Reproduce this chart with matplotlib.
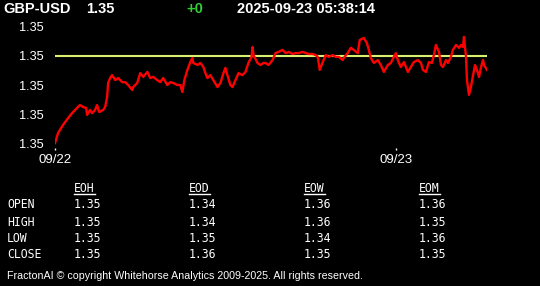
import matplotlib
matplotlib.use("Agg")
import matplotlib.pyplot as plt

# header
symbol = "GBP-USD"
last_price = "1.35"
change = "+0"
stamp = "2025-09-23 05:38:14"

# intraday series: hours since 09/22 00:00, price
hours = [
    0.00, 0.21, 0.35, 0.56, 0.92, 1.20, 1.55, 1.76, 1.98, 2.19,
    2.26, 2.47, 2.61, 2.82, 2.96, 3.11, 3.39, 3.53, 3.67, 3.74,
    3.88, 4.02, 4.24, 4.45, 4.73, 4.94, 5.15, 5.44, 5.51, 5.79,
    6.00, 6.21, 6.50, 6.71, 6.92, 7.20, 7.41, 7.62, 7.91, 8.12,
    8.33, 8.61, 8.82, 8.97, 9.11, 9.32, 9.53, 9.67, 9.74, 10.03,
    10.24, 10.45, 10.59, 10.73, 10.94, 11.15, 11.44, 11.65, 11.86, 12.00,
    12.14, 12.35, 12.50, 12.71, 12.92, 13.20, 13.41, 13.62, 13.84, 13.91,
    13.98, 14.26, 14.47, 14.68, 14.82, 15.04, 15.32, 15.53, 15.74, 16.02,
    16.24, 16.45, 16.73, 16.94, 17.15, 17.44, 17.65, 17.86, 18.14, 18.36,
    18.50, 18.64, 18.85, 19.06, 19.27, 19.56, 19.77, 19.98, 20.26, 20.33,
    20.61, 20.83, 21.04, 21.32, 21.46, 21.74, 21.96, 22.10, 22.24, 22.45,
    22.73, 22.94, 23.16, 23.44, 23.65, 23.86, 24.00, 24.14, 24.35, 24.57,
    24.85, 25.06, 25.27, 25.55, 25.77, 25.91, 26.12, 26.33, 26.54, 26.68,
    26.82, 27.04, 27.18, 27.32, 27.53, 27.67, 27.88, 28.02, 28.24, 28.45,
    28.59, 28.73, 28.80, 28.94, 29.01, 29.15, 29.29, 29.44, 29.58, 29.79,
    29.86, 30.00, 30.14, 30.21, 30.42,
]
prices = [
    1.34900, 1.34934, 1.34945, 1.34962, 1.34986, 1.35003, 1.35021, 1.35031, 1.35024, 1.35021,
    1.34997, 1.35014, 1.35003, 1.35014, 1.35031, 1.35007, 1.35014, 1.35024, 1.35059, 1.35107,
    1.35124, 1.35134, 1.35117, 1.35124, 1.35110, 1.35110, 1.35100, 1.35083, 1.35093, 1.35107,
    1.35141, 1.35128, 1.35145, 1.35124, 1.35128, 1.35117, 1.35110, 1.35124, 1.35100, 1.35110,
    1.35107, 1.35100, 1.35100, 1.35076, 1.35117, 1.35152, 1.35179, 1.35193, 1.35176, 1.35169,
    1.35176, 1.35162, 1.35141, 1.35124, 1.35134, 1.35117, 1.35093, 1.35107, 1.35141, 1.35159,
    1.35134, 1.35100, 1.35093, 1.35117, 1.35141, 1.35134, 1.35145, 1.35176, 1.35197, 1.35231,
    1.35203, 1.35176, 1.35169, 1.35176, 1.35176, 1.35169, 1.35186, 1.35210, 1.35214, 1.35221,
    1.35210, 1.35214, 1.35207, 1.35210, 1.35210, 1.35214, 1.35210, 1.35207, 1.35207, 1.35203,
    1.35197, 1.35152, 1.35179, 1.35203, 1.35197, 1.35203, 1.35197, 1.35197, 1.35186, 1.35193,
    1.35210, 1.35228, 1.35221, 1.35210, 1.35255, 1.35262, 1.35245, 1.35221, 1.35193, 1.35176,
    1.35186, 1.35169, 1.35145, 1.35169, 1.35176, 1.35197, 1.35210, 1.35186, 1.35162, 1.35179,
    1.35145, 1.35162, 1.35179, 1.35186, 1.35176, 1.35152, 1.35145, 1.35179, 1.35176, 1.35203,
    1.35238, 1.35214, 1.35169, 1.35162, 1.35186, 1.35176, 1.35197, 1.35221, 1.35238, 1.35228,
    1.35238, 1.35231, 1.35266, 1.35197, 1.35117, 1.35066, 1.35093, 1.35134, 1.35169, 1.35141,
    1.35128, 1.35162, 1.35186, 1.35169, 1.35152,
]
ref_level = 1.35200

y_ticks = [1.3490, 1.3500, 1.3510, 1.3520, 1.3530]
x_ticks = [0, 24]
x_labels = ["09/22", "09/23"]

# summary table
col_names = ["EOH", "EOD", "EOW", "EOM"]
row_names = ["OPEN", "HIGH", "LOW", "CLOSE"]
table_vals = [
    ["1.35", "1.34", "1.36", "1.36"],
    ["1.35", "1.34", "1.36", "1.35"],
    ["1.35", "1.35", "1.34", "1.36"],
    ["1.35", "1.36", "1.35", "1.35"],
]
footer = "FractonAI \u00a9 copyright Whitehorse Analytics 2009-2025. All rights reserved."

W, H = 540, 286
fig = plt.figure(figsize=(W / 100, H / 100), dpi=100, facecolor="black")


def fx(px):
    return px / W


def fy(py):
    return 1 - py / H


ax = fig.add_axes([fx(55), fy(148), fx(487) - fx(55), fy(20) - fy(148)])
ax.set_facecolor("black")
ax.plot(hours, prices, color="#ff0000", lw=1.7, solid_joinstyle="round")
ax.axhline(ref_level, color="#d8f070", lw=1.5, zorder=1)
ax.set_xlim(0, hours[-1])
ax.set_ylim(1.34883, 1.35324)
for s in ax.spines.values():
    s.set_visible(False)
ax.set_yticks(y_ticks)
ax.set_yticklabels([f"{v:.2f}" for v in y_ticks])
ax.set_xticks(x_ticks)
ax.set_xticklabels(x_labels)
ax.tick_params(axis="y", length=0, pad=8, colors="white", labelsize=9.2)
ax.tick_params(axis="x", length=1.5, width=1, pad=3, colors="white",
               labelsize=9.5, direction="out")
for lab in ax.get_xticklabels() + ax.get_yticklabels():
    lab.set_fontfamily("Liberation Sans")

hdr = dict(color="white", fontsize=10.5, fontweight="bold",
           family="Liberation Sans", va="center")
fig.text(fx(3), fy(9), symbol, **hdr)
fig.text(fx(86), fy(9), last_price, **hdr)
fig.text(fx(186), fy(9), change, **{**hdr, "color": "#33cc33"})
fig.text(fx(237), fy(9), stamp, **hdr)

mono = dict(color="white", fontsize=8.3, family="DejaVu Sans Mono", va="center")
col_x = [74, 189, 304, 419]
row_y = [205, 222, 238, 255]
fig.canvas.draw()
renderer = fig.canvas.get_renderer()
for cx, name in zip(col_x, col_names):
    t = fig.text(fx(cx), fy(188), name, **mono)
    bb = t.get_window_extent(renderer)
    uy = bb.y0 + 1
    fig.add_artist(plt.Line2D([bb.x0 / W, bb.x1 / W], [uy / H, uy / H],
                              transform=fig.transFigure, color="white", lw=1))
for ry, rname, vals in zip(row_y, row_names, table_vals):
    fig.text(fx(7), fy(ry), rname, **mono)
    for cx, v in zip(col_x, vals):
        fig.text(fx(cx), fy(ry), v, **mono)

fig.text(fx(7), fy(276), footer, color="white", fontsize=7.7,
         family="Liberation Sans", va="center")

fig.savefig("out.png", dpi=100, facecolor="black")
